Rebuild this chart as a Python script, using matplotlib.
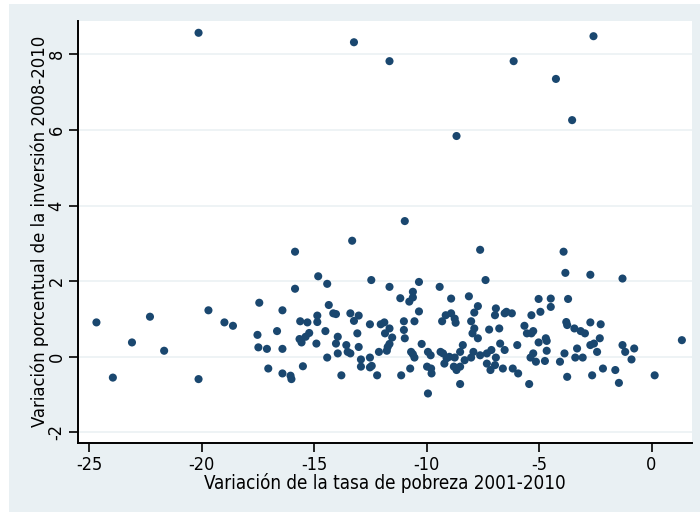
"""
Scatter: variación de la tasa de pobreza vs variación porcentual de la inversión.
"""
import matplotlib
matplotlib.use("Agg")
import matplotlib.pyplot as plt
from matplotlib.patches import Rectangle

# values
pobreza = [
    -20.14, -13.23, -11.65, -6.13, -2.58, -4.25, -3.53, -8.67, -10.97, -13.31,
    -7.62, -15.85, -3.91, -3.83, -2.72, -1.29, -14.82, -14.42, -12.46, -7.38,
    -10.34, -11.65, -9.42, -15.85,
    -24.68, -23.95, -23.10, -22.30, -21.67, -20.14, -19.70, -18.99, -18.61, -17.44,
    -17.52, -17.48, -17.10, -17.04, -16.65, -16.41, -16.41, -16.41, -16.05, -16.01,
    -15.62, -15.65, -15.56, -15.50, -15.30, -15.22, -15.38, -14.86, -14.86, -14.90,
    -14.50, -14.42, -14.35, -14.15, -14.03, -13.95, -14.03, -13.95, -13.79, -13.57,
    -13.51, -13.39, -13.39, -13.23, -13.08, -13.02, -13.02, -12.92, -12.92, -12.52,
    -12.52, -12.52, -12.44, -12.20, -12.12, -12.04, -11.88, -11.85, -11.77, -11.73,
    -11.65, -11.65, -11.53, -11.17, -11.13, -11.01, -11.01, -10.97, -10.77, -10.61,
    -10.61, -10.54, -10.34, -10.73, -10.69, -10.61, -10.54, -10.22, -9.94, -9.98,
    -9.94, -9.82, -9.80, -9.78, -9.38, -9.31, -9.27, -9.21, -9.15, -9.11,
    -8.99, -8.91, -8.91, -8.75, -8.71, -8.79, -8.75, -8.67, -8.51, -8.51,
    -8.51, -8.39, -8.31, -8.12, -8.02, -7.96, -7.92, -8.02, -7.88, -7.88,
    -7.72, -7.72, -7.62, -7.32, -7.32, -7.22, -7.16, -7.12, -6.96, -6.92,
    -6.92, -6.96, -6.77, -6.73, -6.61, -6.53, -6.53, -6.45, -6.21, -6.17,
    -5.97, -5.93, -5.65, -5.54, -5.44, -5.34, -5.34, -5.26, -5.38, -5.26,
    -5.14, -5.02, -5.02, -4.94, -4.70, -4.66, -4.66, -4.74, -4.48, -4.48,
    -4.07, -3.87, -3.79, -3.75, -3.75, -3.71, -3.43, -3.39, -3.31, -3.15,
    -3.06, -2.96, -2.72, -2.72, -2.64, -2.56, -2.42, -2.30, -2.26, -2.16,
    -1.61, -1.45, -1.29, -1.17, -0.89, -0.77, 0.14, 1.35,
]
inversion = [
    8.57, 8.32, 7.82, 7.82, 8.48, 7.35, 6.26, 5.84, 3.59, 3.07,
    2.83, 2.78, 2.78, 2.22, 2.17, 2.07, 2.13, 1.93, 2.03, 2.03,
    1.98, 1.85, 1.85, 1.80,
    0.91, -0.55, 0.38, 1.06, 0.16, -0.59, 1.23, 0.91, 0.82, 1.43,
    0.58, 0.25, 0.21, -0.31, 0.68, 1.23, 0.21, -0.44, -0.50, -0.59,
    0.94, 0.47, 0.38, -0.25, 0.91, 0.63, 0.53, 1.09, 0.92, 0.35,
    0.68, -0.02, 1.37, 1.15, 1.13, 0.53, 0.35, 0.09, -0.49, 0.31,
    0.13, 1.15, 0.09, 0.95, 0.62, 1.09, 0.26, -0.07, -0.26, 0.86,
    -0.02, -0.28, -0.24, -0.49, 0.13, 0.86, 0.91, 0.62, 0.16, 0.26,
    0.34, 0.75, 0.51, 1.55, -0.49, 0.94, 0.71, 0.49, 1.46, 1.72,
    1.57, 0.94, 1.20, -0.31, 0.13, 0.07, -0.02, 0.34, 0.13, -0.26,
    -0.97, 0.04, -0.31, -0.44, 0.13, 0.94, 0.09, -0.18, 1.10, -0.04,
    0.00, 1.54, 1.15, 1.01, 0.90, -0.26, -0.02, -0.35, -0.26, 0.13,
    -0.72, 0.31, -0.09, 1.60, 0.94, 0.62, 0.13, -0.02, 0.75, 1.17,
    1.34, 0.49, 0.04, 0.09, -0.18, 0.72, -0.35, 0.18, 1.10, 1.28,
    -0.02, -0.22, 0.75, 0.35, -0.31, 0.18, 1.15, 1.19, 1.15, -0.31,
    0.31, -0.44, 0.82, 0.62, -0.72, 1.10, 0.62, 0.68, -0.02, 0.09,
    -0.13, 1.53, 0.38, 1.19, 0.49, 0.42, 0.16, -0.11, 1.54, 1.32,
    -0.13, 0.09, 0.92, 0.84, -0.53, 1.53, 0.75, -0.02, 0.22, 0.68,
    -0.02, 0.62, 0.91, 0.31, -0.49, 0.35, 0.13, 0.49, 0.86, -0.31,
    -0.35, -0.69, 0.31, 0.13, -0.07, 0.22, -0.49, 0.44,
]
x_ticks = [-25, -20, -15, -10, -5, 0]
y_ticks = [-2, 0, 2, 4, 6, 8]

MARKER_COLOR = "#1a476f"
OUTER_BG = "#e9f0f3"
GRID_COLOR = "#eef3f5"

plt.rcParams["font.family"] = ["DejaVu Sans"]
plt.rcParams["font.stretch"] = "condensed"
plt.rcParams["axes.unicode_minus"] = False

fig = plt.figure(figsize=(7.0, 5.12), dpi=100, facecolor="white")
fig.patches.append(Rectangle((9 / 700, 0), 1, 1 - 4 / 512, transform=fig.transFigure,
                             facecolor=OUTER_BG, edgecolor="none", zorder=-10))
ax = fig.add_axes([78 / 700, 1 - 443 / 512, (692 - 78) / 700, (443 - 20.7) / 512])
ax.set_facecolor("white")

ax.scatter(pobreza, inversion, s=34, color=MARKER_COLOR, edgecolors="none", zorder=3)

ax.set_xlim(-25.5, 1.8)
ax.set_ylim(-2.28, 8.89)
ax.set_xticks(x_ticks)
ax.set_yticks(y_ticks)
ax.set_yticklabels([str(v) for v in y_ticks], rotation=90, va="center")
ax.grid(axis="y", color=GRID_COLOR, linewidth=1.4, zorder=0)
ax.tick_params(axis="both", direction="out", length=6.5, width=1.2, colors="black",
               labelsize=13, pad=2.5)
ax.tick_params(axis="x", pad=3.2)
for side in ("top", "right"):
    ax.spines[side].set_visible(False)
for side in ("left", "bottom"):
    ax.spines[side].set_linewidth(1.4)

ax.set_xlabel("Variación de la tasa de pobreza 2001-2010", fontsize=13.5)
ax.set_ylabel("Variación porcentual de la inversión 2008-2010", fontsize=13.2)
ax.xaxis.set_label_coords(0.5, -0.072)
ax.yaxis.set_label_coords(-0.048, 0.5)

fig.savefig("out.png", dpi=100, facecolor=fig.get_facecolor())
